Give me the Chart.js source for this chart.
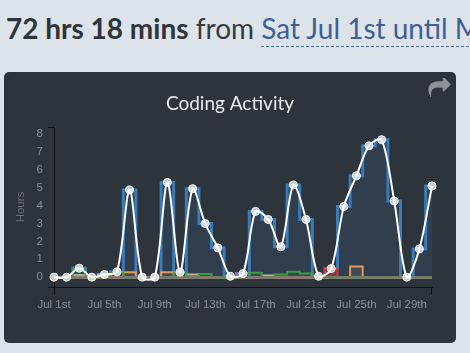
<!DOCTYPE html>
<html>
<head>
<meta charset="utf-8">
<script src="https://cdn.jsdelivr.net/npm/chart.js@4.4.0/dist/chart.umd.min.js"></script>
<style>
  html, body { margin: 0; padding: 0; }
  body { width: 470px; height: 353px; background: #dde3ea; position: relative; overflow: hidden; font-family: Lato, sans-serif; }
  #header { position: absolute; left: 6px; top: 11px; font-size: 28px; line-height: 34px; white-space: nowrap; color: #363b40; }
  #header b { color: #2f3439; font-weight: 700; }
  #header .range { color: #3d5f96; border-bottom: 1px dashed #4f6f9f; padding-bottom: 1px; }
  #panel { position: absolute; left: 4px; top: 72px; width: 452px; height: 271px; background: #2e343c; border-radius: 5px; }
  #myActivityChart { position: absolute; left: 0; top: 0; }
  #share { position: absolute; left: 424px; top: 6px; }
</style>
</head>
<body>
<div id="header"><b>72 hrs 18 mins</b> from <span class="range">Sat Jul 1st until Mon Jul 31st</span></div>
<div id="panel">
  <canvas id="myActivityChart" width="452" height="271"></canvas>
  <svg id="share" width="23" height="19" viewBox="0 128 1792 1536"><path fill="#8e9398" d="M1792 640q0 26-19 45l-512 512q-19 19-45 19t-45-19-19-45v-256h-224q-98 0-175.5 6t-154 21.5-133 42.5-105.5 69.5-80 101-48.5 138.5-17.5 181q0 55 5 123 0 6 2.5 23.5t2.5 26.5q0 15-8.5 25t-23.5 10q-16 0-28-17-7-9-13-22t-13.5-30-10.5-24q-127-285-127-451 0-199 53-333 162-403 875-403h224v-256q0-26 19-45t45-19 45 19l512 512q19 19 19 45z"/></svg>
</div>
<script>
let days = ['Jul 1st', 'Jul 2nd', 'Jul 3rd', 'Jul 4th', 'Jul 5th', 'Jul 6th', 'Jul 7th', 'Jul 8th',
    'Jul 9th', 'Jul 10th', 'Jul 11th', 'Jul 12th', 'Jul 13th', 'Jul 14th', 'Jul 15th', 'Jul 16th',
    'Jul 17th', 'Jul 18th', 'Jul 19th', 'Jul 20th', 'Jul 21st', 'Jul 22nd', 'Jul 23rd', 'Jul 24th',
    'Jul 25th', 'Jul 26th', 'Jul 27th', 'Jul 28th', 'Jul 29th', 'Jul 30th', 'Jul 31st'];

// total hours per day
let totalHours = [0, 0, 0.5, 0, 0.15, 0.3, 4.88, 0, 0, 5.3, 0.28, 4.95, 3.0, 1.64, 0.05, 0.2,
    3.68, 3.23, 1.7, 5.16, 3.23, 0.05, 0.48, 3.95, 5.67, 7.35, 7.69, 4.26, 0, 1.58, 5.1];

// per language hours
let langGreen = [0, 0, 0.42, 0, 0, 0.27, 0, 0, 0, 0, 0.22, 0, 0.18, 0, 0, 0,
    0.25, 0, 0.15, 0.3, 0.2, 0, 0, 0, 0, 0, 0, 0, 0, 0, 0];
let langOrange = [0, 0, 0, 0, 0, 0, 0.28, 0, 0, 0.28, 0, 0, 0, 0, 0, 0,
    0, 0, 0, 0, 0, 0, 0, 0, 0.6, 0, 0, 0, 0, 0, 0];
let langBeige = [0, 0, 0.12, 0, 0, 0, 0, 0, 0, 0, 0, 0.15, 0, 0, 0, 0,
    0, 0.1, 0, 0, 0, 0, 0, 0, 0, 0, 0, 0, 0, 0, 0];
let langBlue = [0, 0, 0, 0, 0.15, 0, 0, 0, 0, 0, 0, 0, 0, 0, 0, 0,
    0, 0, 0, 0, 0, 0, 0, 0, 0, 0, 0, 0, 0, 0, 0];
let langPurple = [0, 0, 0, 0, 0, 0, 0, 0, 0, 0, 0, 0, 0, 0, 0, 0.2,
    0, 0, 0, 0, 0, 0, 0, 0, 0, 0, 0, 0, 0, 0, 0];
let langRed = [0, 0, 0, 0, 0, 0, 0, 0, 0, 0, 0, 0, 0, 0, 0, 0,
    0, 0, 0, 0, 0, 0, 0.48, 0, 0, 0, 0, 0, 0, 0, 0];
let langOther = [0, 0, 0, 0, 0, 0, 0, 0, 0, 0, 0, 0, 0, 0, 0, 0,
    0, 0, 0, 0, 0, 0, 0, 0, 0, 0, 0, 0, 0, 0, 0];

let yTicks = [0, 1, 2, 3, 4, 5, 6, 7, 8];

let langStep = (data, color, fillColor, order) => ({
    data: data,
    borderColor: color,
    backgroundColor: fillColor,
    borderWidth: 2,
    stepped: 'middle',
    fill: 'origin',
    pointRadius: 0,
    order: order
});

// little d3 style outer ticks at the ends of both axes
const axisCaps = {
    id: 'axisCaps',
    afterDraw(chart) {
        let ctx = chart.ctx;
        let a = chart.chartArea;
        ctx.save();
        ctx.strokeStyle = '#101214';
        ctx.lineWidth = 1;
        ctx.beginPath();
        ctx.moveTo(a.left - 6, Math.round(a.top) + 0.5);
        ctx.lineTo(a.left, Math.round(a.top) + 0.5);
        ctx.moveTo(a.left - 6, Math.round(a.bottom) + 0.5);
        ctx.lineTo(a.left, Math.round(a.bottom) + 0.5);
        ctx.moveTo(Math.round(a.left) + 0.5, a.bottom);
        ctx.lineTo(Math.round(a.left) + 0.5, a.bottom + 8);
        ctx.moveTo(Math.round(a.right) - 0.5, a.bottom);
        ctx.lineTo(Math.round(a.right) - 0.5, a.bottom + 8);
        ctx.stroke();
        ctx.restore();
    }
};

Chart.defaults.font.family = "'Liberation Sans', Arial, sans-serif";

let ctx1 = document.getElementById('myActivityChart').getContext('2d');
let myActivityChart = new Chart(ctx1, {
    type: 'line',
    data: {
        labels: days,
        datasets: [
            {
                label: 'Total',
                data: totalHours,
                borderColor: '#ffffff',
                borderWidth: 2,
                tension: 0.3,
                fill: false,
                pointRadius: 4,
                pointBackgroundColor: 'rgba(255,255,255,0.72)',
                pointBorderColor: '#ffffff',
                pointBorderWidth: 1,
                order: 0
            },
            langStep(langOther, '#767676', 'rgba(0,0,0,0)', 1),
            langStep(langGreen, '#3c9d44', 'rgba(60,157,68,0.15)', 2),
            langStep(langOrange, '#e09a5a', 'rgba(224,154,90,0.12)', 3),
            langStep(langBeige, '#c9ab96', 'rgba(201,171,150,0.12)', 4),
            langStep(langBlue, '#8cc4e0', 'rgba(140,196,224,0.12)', 5),
            langStep(langPurple, '#9b6fc4', 'rgba(155,111,196,0.15)', 6),
            langStep(langRed, '#d9343a', 'rgba(217,52,58,0.5)', 7),
            {
                label: 'Hours',
                data: totalHours,
                borderColor: '#3b7bb8',
                backgroundColor: 'rgba(59,123,184,0.15)',
                borderWidth: 3,
                stepped: 'middle',
                fill: 'origin',
                pointRadius: 0,
                order: 9
            }
        ]
    },
    options: {
        responsive: false,
        animation: false,
        devicePixelRatio: 1,
        layout: {
            padding: 0
        },
        scales: {
            x: {
                type: 'category',
                offset: false,
                grid: { display: false, drawTicks: false },
                border: { display: true, color: '#101214', width: 1 },
                ticks: {
                    autoSkip: false,
                    maxRotation: 0,
                    padding: 11,
                    color: '#8b9198',
                    font: { size: 11.5 },
                    callback: function (value, index) {
                        return index % 4 === 0 ? this.getLabelForValue(value) : null;
                    }
                },
                afterFit: (scale) => {
                    scale.height = 56;
                    scale.paddingRight = 24;
                }
            },
            y: {
                min: -0.55,
                max: 8.4,
                grid: { display: false, drawTicks: false },
                border: { display: true, color: '#101214', width: 1 },
                afterBuildTicks: (scale) => { scale.ticks = yTicks.map(v => ({ value: v })); },
                ticks: {
                    padding: 11,
                    color: '#8b9198',
                    font: { size: 11.5 }
                },
                title: {
                    display: true,
                    text: 'Hours',
                    color: '#6c727a',
                    font: { size: 11.5 },
                    padding: { top: 10, bottom: 0 }
                },
                afterFit: (scale) => { scale.width = 50; }
            }
        },
        plugins: {
            legend: { display: false },
            tooltip: { enabled: false },
            title: {
                display: true,
                text: 'Coding Activity',
                color: '#e9eaeb',
                font: { family: 'Lato', size: 19, weight: 'normal' },
                padding: { top: 20, bottom: 12.2 }
            }
        }
    },
    plugins: [axisCaps]
});
</script>
</body>
</html>
